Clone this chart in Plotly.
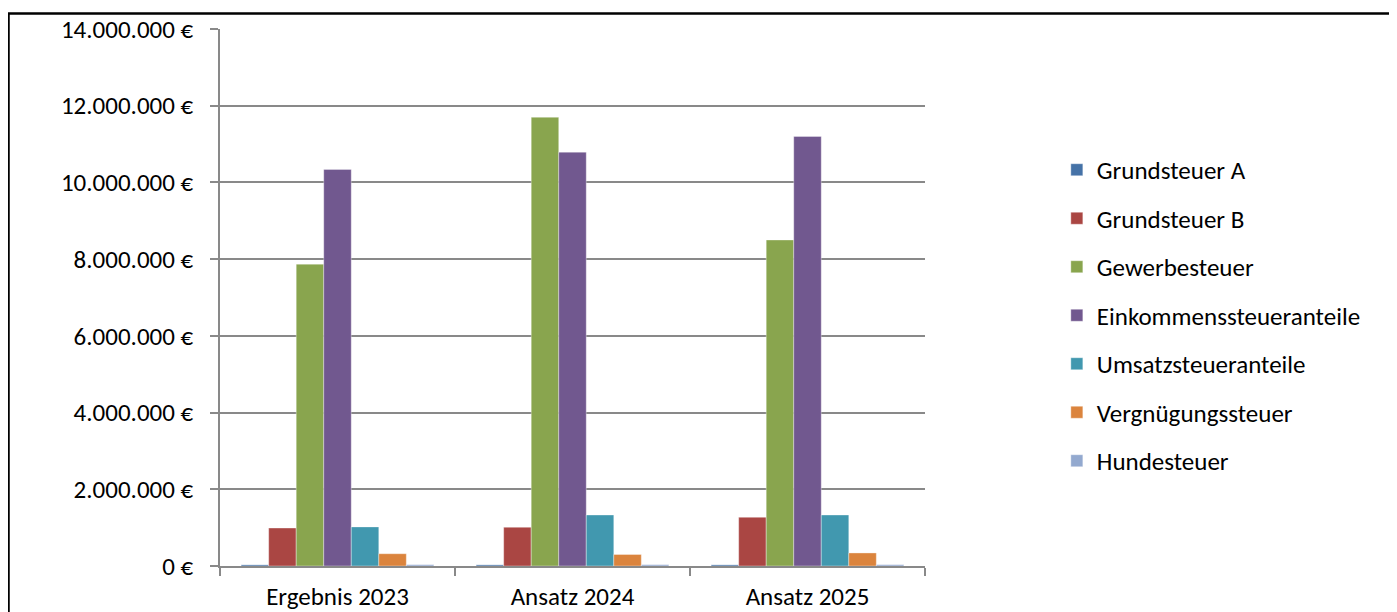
import plotly.graph_objects as go

categories = ["Ergebnis 2023", "Ansatz 2024", "Ansatz 2025"]

grundsteuer_a = [30000, 30000, 30000]
grundsteuer_b = [990000, 1010000, 1270000]
gewerbesteuer = [7870000, 11700000, 8500000]
einkommen = [10340000, 10790000, 11200000]
umsatz = [1020000, 1330000, 1330000]
vergnuegung = [320000, 300000, 340000]
hundesteuer = [35000, 35000, 35000]

series = [
    ("Grundsteuer A", grundsteuer_a, "#4572A7"),
    ("Grundsteuer B", grundsteuer_b, "#AA4643"),
    ("Gewerbesteuer", gewerbesteuer, "#89A54E"),
    ("Einkommenssteueranteile", einkommen, "#71588F"),
    ("Umsatzsteueranteile", umsatz, "#4198AF"),
    ("Vergnügungssteuer", vergnuegung, "#DB843D"),
    ("Hundesteuer", hundesteuer, "#93A9CF"),
]

font = "Calibri, Carlito, Lato, sans-serif"

fig = go.Figure()
for i, (name, vals, color) in enumerate(series):
    fig.add_trace(
        go.Bar(
            x=categories,
            y=vals,
            name=name,
            legendgroup=str(i),
            marker=dict(color=color, line=dict(color="rgba(255,255,255,0.6)", width=0.6)),
        )
    )

fig.update_layout(
    width=1397,
    height=612,
    margin=dict(l=212, r=480, t=21, b=54, autoexpand=False),
    paper_bgcolor="white",
    plot_bgcolor="white",
    barmode="group",
    bargap=0.18,
    bargroupgap=0,
    separators=",.",
    font=dict(family=font, size=25, color="black"),
    showlegend=True,
    legend=dict(
        x=1.187,
        xanchor="left",
        y=0.4665,
        yanchor="middle",
        traceorder="grouped",
        tracegroupgap=13,
        font=dict(size=25),
        itemwidth=30,
    ),
    xaxis=dict(
        automargin=False,
        showline=True,
        linecolor="#898989",
        linewidth=1.5,
        ticks="outside",
        tickson="boundaries",
        ticklen=8,
        tickcolor="#898989",
        tickwidth=1.5,
        showgrid=False,
        tickfont=dict(size=25),
        ticklabelstandoff=7,
    ),
    yaxis=dict(
        automargin=False,
        range=[0, 14000000],
        dtick=2000000,
        tickformat=",d",
        ticksuffix=" €",
        showline=True,
        linecolor="#898989",
        linewidth=1.5,
        ticks="outside",
        ticklen=8,
        tickcolor="#898989",
        tickwidth=1.5,
        showgrid=True,
        gridcolor="#898989",
        gridwidth=1.5,
        zeroline=False,
        tickfont=dict(size=25),
        ticklabelstandoff=12,
    ),
    shapes=[
        dict(
            type="rect",
            xref="paper",
            yref="paper",
            x0=-0.300,
            x1=1.7,
            y0=-0.2,
            y1=1.0289,
            line=dict(color="black", width=2.5),
            fillcolor="rgba(0,0,0,0)",
            layer="above",
        )
    ],
)

fig.write_html("out.html")
